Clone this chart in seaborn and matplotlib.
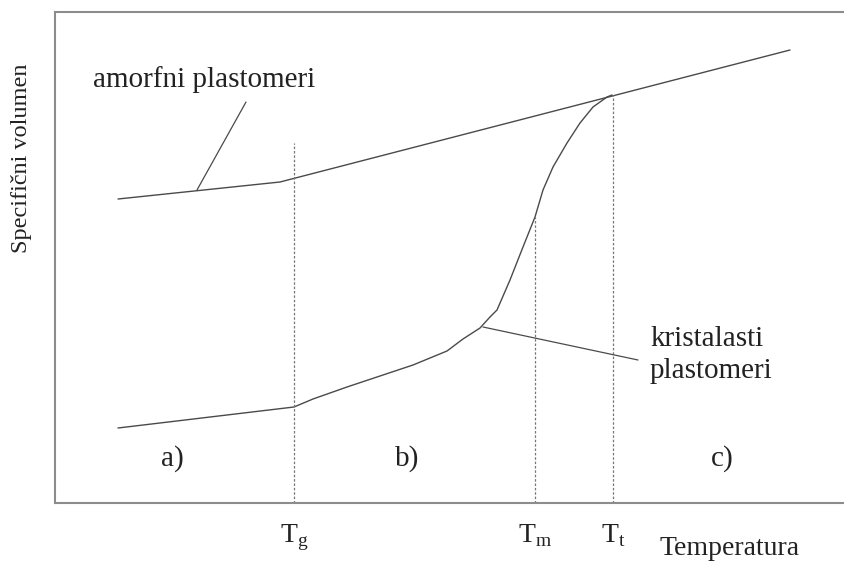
import matplotlib
matplotlib.use("Agg")
import matplotlib.pyplot as plt
import seaborn as sns
import pandas as pd

# Schematic values (arbitrary units)
amorf_x = [63, 225, 735]
amorf_y = [304, 321, 453]

krist_x = [63, 239, 258, 292, 325, 358, 392, 408, 425, 435, 442, 455, 468,
           480, 488, 498, 512, 525, 538, 552, 557]
krist_y = [75, 96, 104, 116, 127, 138, 152, 164, 175, 186, 193, 223, 256,
           286, 313, 336, 360, 380, 396, 406, 408]

# characteristic temperatures and where the dotted guides stop
temp_pos = [239, 480, 558]
temp_top = [360, 286, 408]
temp_labels = [r"$\mathrm{T}_{\mathrm{g}}$", r"$\mathrm{T}_{\mathrm{m}}$", r"$\mathrm{T}_{\mathrm{t}}$"]

region_labels = ["a)", "b)", "c)"]
region_x = [117, 352, 667]

sns.set_style("white")
plt.rcParams["font.family"] = ["Liberation Serif", "DejaVu Serif"]
plt.rcParams["mathtext.fontset"] = "custom"
plt.rcParams["mathtext.rm"] = "Liberation Serif"

fig = plt.figure(figsize=(8.45, 5.69), dpi=100)
ax = fig.add_axes([55 / 845, 66 / 569, 790 / 845, 491 / 569])

line_col = "#4a4a4a"
df_a = pd.DataFrame({"x": amorf_x, "y": amorf_y})
df_k = pd.DataFrame({"x": krist_x, "y": krist_y})
sns.lineplot(data=df_a, x="x", y="y", ax=ax, color=line_col, lw=1.0, sort=False)
sns.lineplot(data=df_k, x="x", y="y", ax=ax, color=line_col, lw=1.0, sort=False)

# dotted guides
for xp, top in zip(temp_pos, temp_top):
    ax.plot([xp, xp], [0, top], color="#777777", lw=0.9, ls=(0, (2, 1.5)))

# leader lines
ax.plot([142, 191], [313, 401], color=line_col, lw=0.9)
ax.plot([428, 583], [176, 143], color=line_col, lw=0.9)

ax.text(38, 423, "amorfni plastomeri", fontsize=21, va="center", ha="left", color="#222222")
ax.text(595, 148, "kristalasti\nplastomeri", fontsize=21, va="center", ha="left",
        linespacing=1.3, color="#222222")
for lab, xp in zip(region_labels, region_x):
    ax.text(xp, 44, lab, fontsize=21, ha="center", va="center", color="#222222")

ax.set_xlim(0, 790)
ax.set_ylim(0, 491)
ax.set_xticks(temp_pos)
ax.set_xticklabels(temp_labels, fontsize=20, color="#222222")
ax.tick_params(axis="x", length=0, pad=14)
ax.set_yticks([])

ax.set_xlabel("Temperatura", fontsize=20, color="#222222")
ax.xaxis.set_label_coords(0.854, -0.092)
ax.xaxis.label.set_va("center")
ax.set_ylabel("Specifični volumen", fontsize=17.5, color="#222222")
ax.yaxis.set_label_coords(-0.042, 0.703)
ax.yaxis.label.set_va("center")

for side in ["left", "bottom", "top"]:
    ax.spines[side].set_color("#8c8c8c")
    ax.spines[side].set_linewidth(1.5)
ax.spines["right"].set_visible(False)

fig.savefig("out.png", dpi=100)
